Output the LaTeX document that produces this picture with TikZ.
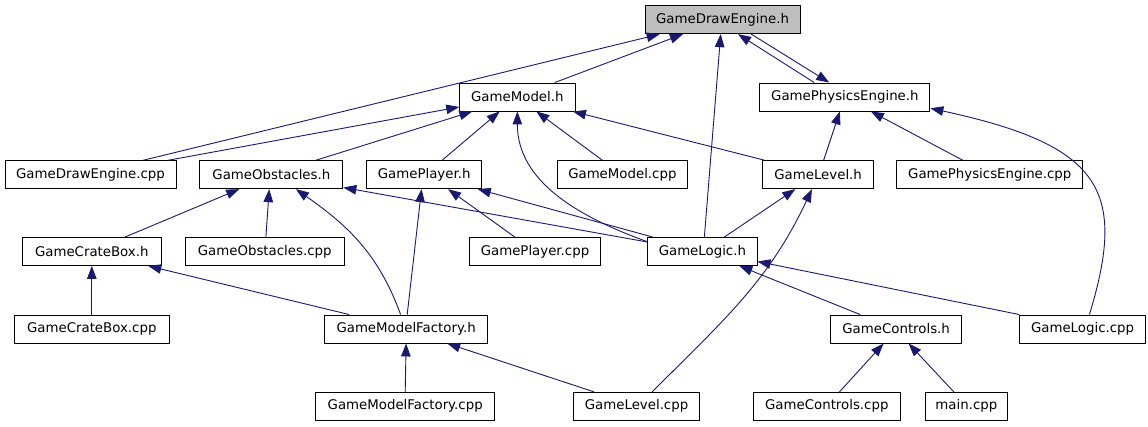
\documentclass[tikz,border=0pt]{standalone}
\usepackage{fontspec}
\setmainfont{DejaVu Sans}
\usepackage{xcolor}
\usetikzlibrary{arrows.meta, positioning}
\definecolor{midnight}{HTML}{191970}

\begin{document}
\begin{tikzpicture}[
    x=1pt, y=-1pt,
    >={Triangle[length=13pt, width=9.5pt]},
    box/.style={rectangle, draw=black, fill=#1, minimum height=28pt, inner sep=0pt, font=\fontsize{13.33}{16}\selectfont, line width=0.9pt},
    box/.default=white,
    arr/.style={->, color=midnight, line width=0.9pt}
]
\useasboundingbox[fill=white] (0,0) rectangle (1148,427);

% Row 1: the header itself
\node[box=black!25, minimum width=155pt] (dreh) at (722.5,19.7) {GameDrawEngine.h};

% Row 2
\node[box, minimum width=115.3pt] (mdlh) at (517.35,97) {GameModel.h};
\node[box, minimum width=170pt, right=184pt of mdlh] (phyh) {GamePhysicsEngine.h};

% Row 3
\node[box, minimum width=171pt] (drecpp) at (90.5,174.7) {GameDrawEngine.cpp};
\node[box, minimum width=143pt, right=23pt of drecpp] (obsh) {GameObstacles.h};
\node[box, minimum width=114.7pt, right=23pt of obsh] (plyh) {GamePlayer.h};
\node[box, minimum width=130.7pt, right=74.6pt of plyh] (mdlcpp) {GameModel.cpp};
\node[box, minimum width=111pt, right=74pt of mdlcpp] (lvlh) {GameLevel.h};
\node[box, minimum width=186pt, right=22.3pt of lvlh] (phycpp) {GamePhysicsEngine.cpp};

% Row 4
\node[box, minimum width=139pt] (crth) at (91.8,251.5) {GameCrateBox.h};
\node[box, minimum width=159pt, right=23pt of crth] (obscpp) {GameObstacles.cpp};
\node[box, minimum width=131pt, right=124.4pt of obscpp] (plycpp) {GamePlayer.cpp};
\node[box, minimum width=109.3pt, right=46.3pt of plycpp] (lgch) {GameLogic.h};

% Row 5
\node[box, minimum width=155pt] (crtcpp) at (91.8,329) {GameCrateBox.cpp};
\node[box, minimum width=163pt, right=154.4pt of crtcpp] (facth) {GameModelFactory.h};
\node[box, minimum width=130.7pt, right=342.3pt of facth] (ctlh) {GameControls.h};
\node[box, minimum width=125.7pt, right=57.3pt of ctlh] (lgccpp) {GameLogic.cpp};

% Row 6
\node[box, minimum width=179pt] (factcpp) at (405.2,406.3) {GameModelFactory.cpp};
\node[box, minimum width=126.7pt, right=77.6pt of factcpp] (lvlcpp) {GameLevel.cpp};
\node[box, minimum width=146.6pt, right=52.7pt of lvlcpp] (ctlcpp) {GameControls.cpp};
\node[box, minimum width=82.7pt, right=24pt of ctlcpp] (maincpp) {main.cpp};

% ---- ARROWS ----
% into GameDrawEngine.h
\draw[arr] ([xshift=37.4pt]mdlh.north) -- ([xshift=-39.5pt]dreh.south);
\draw[arr] ([xshift=52.8pt]drecpp.north) -- ([xshift=-62.8pt]dreh.south);
\draw[arr] ([xshift=-30.7pt]phyh.north) -- ([xshift=15.5pt]dreh.south);
\draw[arr] ([xshift=28.8pt]dreh.south) -- ([xshift=-15.7pt]phyh.north);
\draw[arr] ([xshift=2pt]lgch.north) -- ([xshift=-1.8pt]dreh.south);

% into GameModel.h
\draw[arr] ([xshift=77.8pt]drecpp.north) -- ([yshift=-10pt]mdlh.west);
\draw[arr] ([xshift=44.5pt]obsh.north) -- ([xshift=-45pt]mdlh.south);
\draw[arr] ([xshift=18pt]plyh.north) -- ([xshift=-17.7pt]mdlh.south);
\draw[arr] ([yshift=9.8pt]lgch.west) .. controls +(-67,-24.3) and +(0,71) .. (mdlh.south);
\draw[arr] ([xshift=-20pt]mdlcpp.north) -- ([xshift=19pt]mdlh.south);
\draw[arr] ([xshift=-53.5pt]lvlh.north) -- ([xshift=55.6pt]mdlh.south);

% into GamePhysicsEngine.h
\draw[arr] ([xshift=5.5pt]lvlh.north) -- ([xshift=-5pt]phyh.south);
\draw[arr] ([xshift=-27pt]phycpp.north) -- ([xshift=26pt]phyh.south);
\draw[arr] ([xshift=6.9pt]lgccpp.north) .. controls +(38,-125) and +(171,37) .. ([yshift=-11.3pt]phyh.east);

% into GameObstacles.h
\draw[arr] ([xshift=33.2pt]crth.north) -- ([xshift=-32.2pt]obsh.south);
\draw[arr] ([xshift=1.2pt]obscpp.north) -- ([xshift=-2.2pt]obsh.south);
\draw[arr] ([xshift=-5.5pt]facth.north) .. controls +(-21.9,-60.1) and +(52.4,36.7) .. ([xshift=24.5pt]obsh.south);
\draw[arr] ([yshift=9.5pt]lgch.west) -- ([yshift=-12.8pt]obsh.east);

% into GamePlayer.h
\draw[arr] ([xshift=1.1pt]facth.north) -- ([xshift=-2.6pt]plyh.south);
\draw[arr] ([xshift=-20.2pt]plycpp.north) -- ([xshift=24pt]plyh.south);
\draw[arr] ([xshift=-49.6pt]lgch.north) -- ([xshift=53.6pt]plyh.south);

% into GameLevel.h
\draw[arr] ([xshift=22pt]lgch.north) -- ([xshift=-22.8pt]lvlh.south);
\draw[arr] ([xshift=15.6pt]lvlcpp.north) .. controls +(71.2,-71.2) and +(-42.6,91.3) .. ([xshift=-6.2pt]lvlh.south);

% lower rows
\draw[arr] (crtcpp.north) -- (crth.south);
\draw[arr] ([xshift=-56.9pt]facth.north) -- ([xshift=56.5pt]crth.south);
\draw[arr] ([xshift=-36pt]ctlh.north) -- ([xshift=37pt]lgch.south);
\draw[arr] (lgccpp.north west) -- ([yshift=-10pt]lgch.east);
\draw[arr] (factcpp.north) -- (facth.south);
\draw[arr] ([xshift=-42.6pt]lvlcpp.north) -- ([xshift=41.1pt]facth.south);
\draw[arr] ([xshift=12.7pt]ctlcpp.north) -- ([xshift=-12.6pt]ctlh.south);
\draw[arr] ([xshift=-12.6pt]maincpp.north) -- ([xshift=12.4pt]ctlh.south);

\end{tikzpicture}
\end{document}
